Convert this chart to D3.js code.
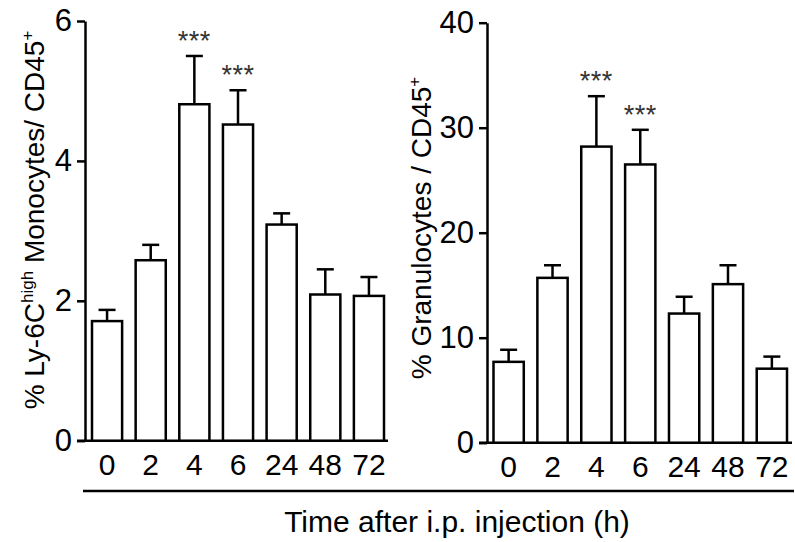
<!DOCTYPE html>
<html>
<head>
<meta charset="utf-8">
<script src="https://cdn.jsdelivr.net/npm/d3@7"></script>
<style>
  body { margin: 0; background: #fff; }
  svg { display: block; font-family: "Liberation Sans", Arial, sans-serif; }
</style>
</head>
<body>
<div id="chart"></div>
<script>
// data
const times = ['0', '2', '4', '6', '24', '48', '72'];
const monoMean = [1.71, 2.58, 4.81, 4.52, 3.09, 2.09, 2.07];
const monoSem = [0.16, 0.22, 0.69, 0.49, 0.16, 0.36, 0.27];
const granMean = [7.7, 15.7, 28.2, 26.5, 12.3, 15.1, 7.05];
const granSem = [1.15, 1.2, 4.8, 3.3, 1.6, 1.8, 1.15];
const monoTicks = [0, 2, 4, 6];
const granTicks = [0, 10, 20, 30, 40];
const stars = ['', '', '***', '***', '', '', ''];

const W = 795, H = 542;

const svg = d3.select('#chart').append('svg')
    .attr('width', W)
    .attr('height', H);

function panel(opts) {
    const g = svg.append('g');

    const x = d3.scaleBand()
        .domain(times)
        .range(opts.xRange)
        .paddingInner(0.31)
        .paddingOuter(0);

    const y = d3.scaleLinear()
        .domain([0, opts.max])
        .range(opts.yRange);

    const rows = times.map((t, i) => ({ t: t, m: opts.mean[i], e: opts.sem[i], s: stars[i] }));

    // baseline
    g.append('line')
        .attr('x1', opts.axisX - 8)
        .attr('x2', opts.baseEnd)
        .attr('y1', y(0))
        .attr('y2', y(0))
        .attr('stroke', '#000')
        .attr('stroke-width', 2.5);

    // y axis
    const ya = g.append('g')
        .attr('transform', 'translate(' + opts.axisX + ',0)')
        .call(d3.axisLeft(y).tickValues(opts.ticks).tickFormat(d3.format('d'))
            .tickSize(8).tickSizeOuter(0).tickPadding(5));
    ya.selectAll('path, line').attr('stroke', '#000').attr('stroke-width', 2.5);
    ya.selectAll('text').attr('font-size', 31).attr('fill', '#000').attr('font-family', null);

    // error bars (upper only)
    const err = g.selectAll('.err').data(rows).enter().append('g');
    err.append('line')
        .attr('x1', d => x(d.t) + x.bandwidth() / 2)
        .attr('x2', d => x(d.t) + x.bandwidth() / 2)
        .attr('y1', d => y(d.m))
        .attr('y2', d => y(d.m + d.e))
        .attr('stroke', '#000')
        .attr('stroke-width', 2.5);
    err.append('line')
        .attr('x1', d => x(d.t) + x.bandwidth() / 2 - 8.5)
        .attr('x2', d => x(d.t) + x.bandwidth() / 2 + 8.5)
        .attr('y1', d => y(d.m + d.e))
        .attr('y2', d => y(d.m + d.e))
        .attr('stroke', '#000')
        .attr('stroke-width', 2.5);

    // bars
    g.selectAll('.bar').data(rows).enter().append('rect')
        .attr('x', d => x(d.t))
        .attr('y', d => y(d.m))
        .attr('width', x.bandwidth())
        .attr('height', d => y(0) - y(d.m))
        .attr('fill', '#fff')
        .attr('stroke', '#000')
        .attr('stroke-width', 2.5);

    // significance
    g.selectAll('.star').data(rows.filter(d => d.s)).enter().append('text')
        .attr('x', d => x(d.t) + x.bandwidth() / 2)
        .attr('y', d => y(d.m + d.e) - 6)
        .attr('text-anchor', 'middle')
        .attr('font-size', 27)
        .attr('letter-spacing', 0.5)
        .attr('fill', '#333')
        .text(d => d.s);

    // x labels
    const xa = g.append('g')
        .attr('transform', 'translate(0,' + y(0) + ')')
        .call(d3.axisBottom(x).tickSize(0).tickPadding(13));
    xa.select('.domain').remove();
    xa.selectAll('text').attr('font-size', 30).attr('fill', '#000').attr('font-family', null);

    // y title
    const t = g.append('text')
        .attr('transform', 'translate(' + opts.titleX + ',' + opts.titleY + ') rotate(-90)')
        .attr('text-anchor', 'middle')
        .attr('font-size', 28)
        .attr('fill', '#000');
    opts.title.forEach(p => {
        const s = t.append('tspan').text(p.text);
        if (p.sup) s.attr('font-size', 17).attr('dy', -11);
        else if (p.down) s.attr('dy', 11);
    });
}

panel({
    mean: monoMean, sem: monoSem, max: 6, ticks: monoTicks,
    xRange: [92, 384], yRange: [440.7, 21], axisX: 85, baseEnd: 388,
    titleX: 44, titleY: 220,
    title: [
        { text: '% Ly-6C' }, { text: 'high', sup: true },
        { text: ' Monocytes/ CD45', down: true }, { text: '+', sup: true }
    ]
});

panel({
    mean: granMean, sem: granSem, max: 40, ticks: granTicks,
    xRange: [493.5, 787], yRange: [442.7, 22.7], axisX: 487, baseEnd: 792,
    titleX: 431, titleY: 228,
    title: [
        { text: '% Granulocytes / CD45' }, { text: '+', sup: true }
    ]
});

// shared x title
svg.append('line')
    .attr('x1', 83).attr('x2', 794)
    .attr('y1', 491).attr('y2', 491)
    .attr('stroke', '#000')
    .attr('stroke-width', 2.5);

svg.append('text')
    .attr('x', 457)
    .attr('y', 532)
    .attr('text-anchor', 'middle')
    .attr('font-size', 30)
    .attr('fill', '#000')
    .text('Time after i.p. injection (h)');
</script>
</body>
</html>
